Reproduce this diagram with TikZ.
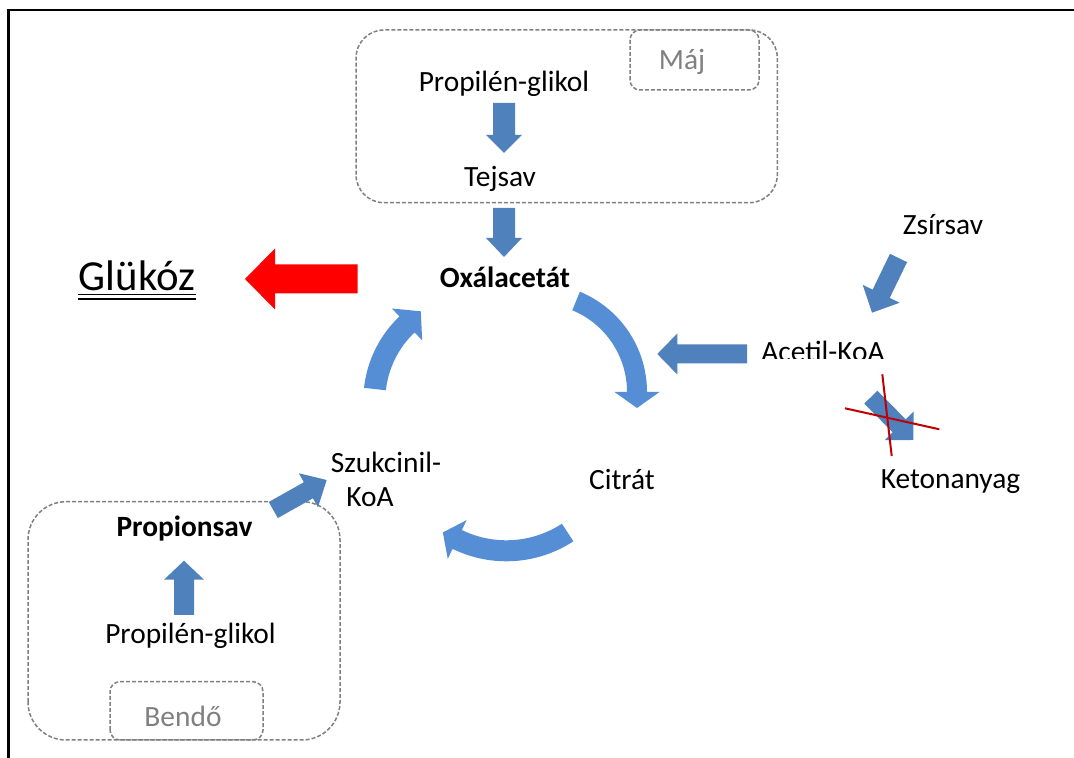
\documentclass[tikz,border=0pt]{standalone}
\usepackage{fontspec}
\setmainfont{Carlito}
\usetikzlibrary{calc}
\definecolor{ablue}{HTML}{4F81BD}
\definecolor{cblue}{HTML}{558ED5}
\definecolor{dgray}{HTML}{808080}
\definecolor{xred}{HTML}{C00000}
\newcommand\blockarrow[6]{%
  \fill[#1] let \p1=(#2), \p2=(#3), \n1={atan2(\y2-\y1,\x2-\x1)} in
   ($(#2)+({\n1+90}:{#4/2})$) -- ($(#3)+({\n1+180}:{#6})+({\n1+90}:{#4/2})$)
   -- ($(#3)+({\n1+180}:{#6})+({\n1+90}:{#5/2})$) -- (#3)
   -- ($(#3)+({\n1+180}:{#6})+({\n1-90}:{#5/2})$) -- ($(#3)+({\n1+180}:{#6})+({\n1-90}:{#4/2})$)
   -- ($(#2)+({\n1-90}:{#4/2})$) -- cycle;}
\newcommand\curvearrow[8]{%
  \pgfmathsetmacro\cRo{#3+#6/2}\pgfmathsetmacro\cRi{#3-#6/2}%
  \pgfmathsetmacro\cHo{#3+#7/2}\pgfmathsetmacro\cHi{#3-#7/2}\pgfmathsetmacro\cTa{#5-90}%
  \fill[cblue] ($(#1,#2)+(#4:\cRo)$) arc[start angle=#4,end angle=#5,radius=\cRo]
   -- ($(#1,#2)+(#5:\cHo)$) -- ($(#1,#2)+(#5:#3)+(\cTa:#8)$) -- ($(#1,#2)+(#5:\cHi)$)
   -- ($(#1,#2)+(#5:\cRi)$) arc[start angle=#5,end angle=#4,radius=\cRi] -- cycle;}
\begin{document}
\begin{tikzpicture}[x=0.5pt,y=0.5pt,
  every node/.style={inner sep=0pt,anchor=base,font=\fontsize{14.7}{17.6}\selectfont},
  region/.style={draw=dgray,line width=0.75pt,dash pattern=on 2pt off 1pt},
  graytext/.style={text=dgray},
  boldtext/.style={font=\fontsize{14.7}{17.6}\selectfont\bfseries},
  cross/.style={draw=xred,line width=1pt}]
\useasboundingbox (0,0) rectangle (1074,758);
\fill[white] (0,0) rectangle (1074,758);
% frame
\draw[line width=1.4pt] (8.5,0) -- (8.5,748) -- (1074,748);
% regions
\draw[region,rounded corners=14pt] (356,555.3) rectangle (777.3,728);
\draw[region,rounded corners=5pt] (630,668) rectangle (759,728);
\draw[region,rounded corners=19pt] (28,18) rectangle (340,256.3);
\draw[region,rounded corners=5pt] (110,18) rectangle (263,76.3);
% texts
\node[graytext] (maj) at (682,688) {Máj};
\node (pg1) at (504,666.3) {Propilén-glikol};
\node (tejsav) at (500,571.3) {Tejsav};
\node[boldtext] (oxal) at (505,470.5) {Oxálacetát};
\node[font=\fontsize{21.4}{25}\selectfont] (gluk) at (137,467) {Glükóz};
\draw[line width=0.9pt] (78,463.5) -- (196,463.5) (78,459) -- (196,459);
\node (zsir) at (943,523) {Zsírsav};
\begin{scope}
\clip (700,399) rectangle (950,440);
\node (acetil) at (823,396) {Acetil-KoA};
\end{scope}
\node (keton) at (950.5,269.7) {Ketonanyag};
\node (citrat) at (622,268) {Citrát};
\node (szuk1) at (386,285) {Szukcinil-};
\node (szuk2) at (370,251) {KoA};
\node[boldtext] (prop) at (184.5,221.3) {Propionsav};
\node (pg2) at (190.5,114.7) {Propilén-glikol};
\node[graytext] (bendo) at (183,31.3) {Bendő};
% straight arrow anchors
\coordinate (a1t) at (504,655); \coordinate (a1h) at (504,605);
\coordinate (a2t) at (504,550); \coordinate (a2h) at (504,501);
\coordinate (rt) at (357.7,479); \coordinate (rh) at (245,479);
\coordinate (zt) at (898.5,500); \coordinate (zh) at (872,445.3);
\coordinate (act) at (747,404); \coordinate (ach) at (657.3,404);
\coordinate (kt) at (870.8,360.8); \coordinate (kh) at (913.3,318);
\coordinate (st) at (273.3,248); \coordinate (sh) at (326.7,278);
\coordinate (pt) at (184,143); \coordinate (ph) at (184,197.3);
\blockarrow{ablue}{a1t}{a1h}{22}{36}{18}
\blockarrow{ablue}{a2t}{a2h}{22}{36}{19}
\blockarrow{red}{rt}{rh}{29}{61}{30}
\blockarrow{ablue}{zt}{zh}{19}{41}{21}
\blockarrow{ablue}{act}{ach}{19}{41}{20}
\blockarrow{ablue}{kt}{kh}{18.4}{40.6}{20}
\blockarrow{ablue}{st}{sh}{18.4}{39}{21}
\blockarrow{ablue}{pt}{ph}{20}{40}{19}
% curved cycle arrows
\curvearrow{538.6}{366}{98.4}{67.6}{0}{20}{45}{16}
\curvearrow{506.3}{319.2}{112}{303.2}{244}{21}{43}{16}
\curvearrow{479.3}{357.4}{105}{173.7}{133.5}{22}{44}{19}
% cross
\draw[cross] (882.3,383.7) -- (891.7,302);
\draw[cross] (845,349.7) -- (939.3,328.7);
\end{tikzpicture}
\end{document}
